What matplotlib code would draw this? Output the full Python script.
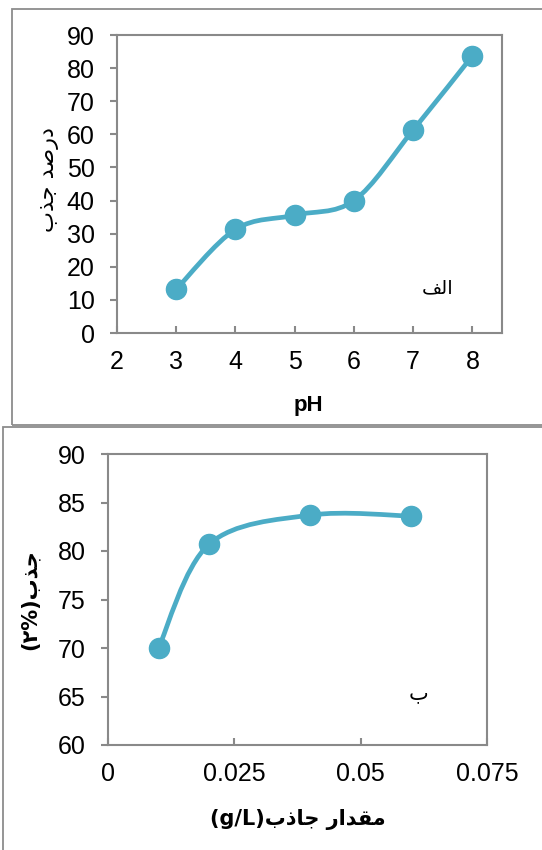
import matplotlib
matplotlib.use("Agg")
import matplotlib.pyplot as plt
from matplotlib.path import Path
from matplotlib.patches import PathPatch, Rectangle
import numpy as np

# ---- data ----
ph_values = [3, 4, 5, 6, 7, 8]
ph_removal = [13.2, 31.3, 35.6, 40.0, 61.3, 83.7]
ph_xticks = [2, 3, 4, 5, 6, 7, 8]
ph_yticks = [0, 10, 20, 30, 40, 50, 60, 70, 80, 90]

dose_values = [0.01, 0.02, 0.04, 0.06]
dose_removal = [70.0, 80.7, 83.7, 83.6]
dose_xticks = [0, 0.025, 0.05, 0.075]
dose_xticklabels = ["0", "0.025", "0.05", "0.075"]
dose_yticks = [60, 65, 70, 75, 80, 85, 90]

# Arabic/Persian text (presentation forms in visual order)
ylabel_top = "\uFE8F\uFEAC\uFE9F \uFEAA\uFEBB\uFEAD\uFEA9"          # درصد جذب
label_top = "\uFED2\uFEDF\uFE8D"                                    # الف
ylabel_bot = "(\u06F2%)\uFE8F\uFEAC\uFE9F"                          # جذب(۲%)
xlabel_bot = "(g/L)\uFE8F\uFEAB\uFE8E\uFE9F \uFEAD\uFE8D\uFEAA\uFED8\uFEE3"  # مقدار جاذب(g/L)
label_bot = "\uFE8F"                                                # ب

LINE = "#4BACC6"
SPINE = "#898989"
W, H = 542, 850

plt.rcParams['font.family'] = ['Liberation Sans', 'DejaVu Sans']

fig = plt.figure(figsize=(W / 100, H / 100), dpi=100)


def smooth_path(xs, ys):
    pts = np.column_stack([xs, ys]).astype(float)
    n = len(pts)
    verts = [pts[0]]
    codes = [Path.MOVETO]
    for i in range(n - 1):
        p0 = pts[i - 1] if i > 0 else pts[i]
        p1 = pts[i]
        p2 = pts[i + 1]
        p3 = pts[i + 2] if i + 2 < n else pts[i + 1]
        c1 = p1 + (p2 - p0) / 6.0
        c2 = p2 - (p3 - p1) / 6.0
        verts += [c1, c2, p2]
        codes += [Path.CURVE4] * 3
    return Path(verts, codes)


def style_axes(ax):
    for s in ax.spines.values():
        s.set_color(SPINE)
        s.set_linewidth(1.5)
    ax.tick_params(axis='y', direction='out', length=5, width=1.5, color=SPINE,
                   labelsize=18, pad=11)
    ax.tick_params(axis='x', direction='in', length=5, width=1.5, color=SPINE,
                   labelsize=18, pad=12)


def px_rect(l, t, r, b):
    return [l / W, 1 - b / H, (r - l) / W, (b - t) / H]


# ---- panel frames ----
fig.add_artist(Rectangle((12 / W, 1 - 425 / H), (560 - 12) / W, (425 - 9) / H,
                         transform=fig.transFigure, fill=False,
                         edgecolor="#8c8c8c", linewidth=1.3))
fig.add_artist(Rectangle((3 / W, 1 - 870 / H), (560 - 3) / W, (870 - 427) / H,
                         transform=fig.transFigure, fill=False,
                         edgecolor="#8c8c8c", linewidth=1.3))

# ---- top panel ----
ax1 = fig.add_axes(px_rect(117, 35, 502, 333))
ax1.add_patch(PathPatch(smooth_path(ph_values, ph_removal), fill=False,
                        edgecolor=LINE, linewidth=3.4, capstyle='round', zorder=2))
ax1.plot(ph_values, ph_removal, linestyle='none', marker='o', markersize=14.5,
         color=LINE, zorder=3)
ax1.set_xlim(2, 8.5)
ax1.set_ylim(0, 90)
ax1.set_xticks(ph_xticks)
ax1.set_yticks(ph_yticks)
style_axes(ax1)
fig.text(308 / W, 1 - 405 / H, "pH", ha='center', va='center',
         fontsize=16, fontweight='bold')
fig.text(49 / W, 1 - 180 / H, ylabel_top, rotation=90, ha='center', va='center',
         fontsize=16, family=['DejaVu Sans'])
fig.text(438 / W, 1 - 288 / H, label_top, ha='center', va='center',
         fontsize=14, family=['DejaVu Sans'])

# ---- bottom panel ----
ax2 = fig.add_axes(px_rect(108, 454, 487, 745))
ax2.add_patch(PathPatch(smooth_path(dose_values, dose_removal), fill=False,
                        edgecolor=LINE, linewidth=3.4, capstyle='round', zorder=2))
ax2.plot(dose_values, dose_removal, linestyle='none', marker='o', markersize=14.5,
         color=LINE, zorder=3)
ax2.set_xlim(0, 0.075)
ax2.set_ylim(60, 90)
ax2.set_xticks(dose_xticks)
ax2.set_xticklabels(dose_xticklabels)
ax2.set_yticks(dose_yticks)
style_axes(ax2)
fig.text(298 / W, 1 - 820 / H, xlabel_bot, ha='center', va='center',
         fontsize=15, fontweight='bold', family=['DejaVu Sans'])
fig.text(30 / W, 1 - 600 / H, ylabel_bot, rotation=90, ha='center', va='center',
         fontsize=15, fontweight='bold', family=['DejaVu Sans'])
fig.text(419 / W, 1 - 693 / H, label_bot, ha='center', va='center',
         fontsize=15, family=['DejaVu Sans'])

fig.savefig("out.png", dpi=100)
